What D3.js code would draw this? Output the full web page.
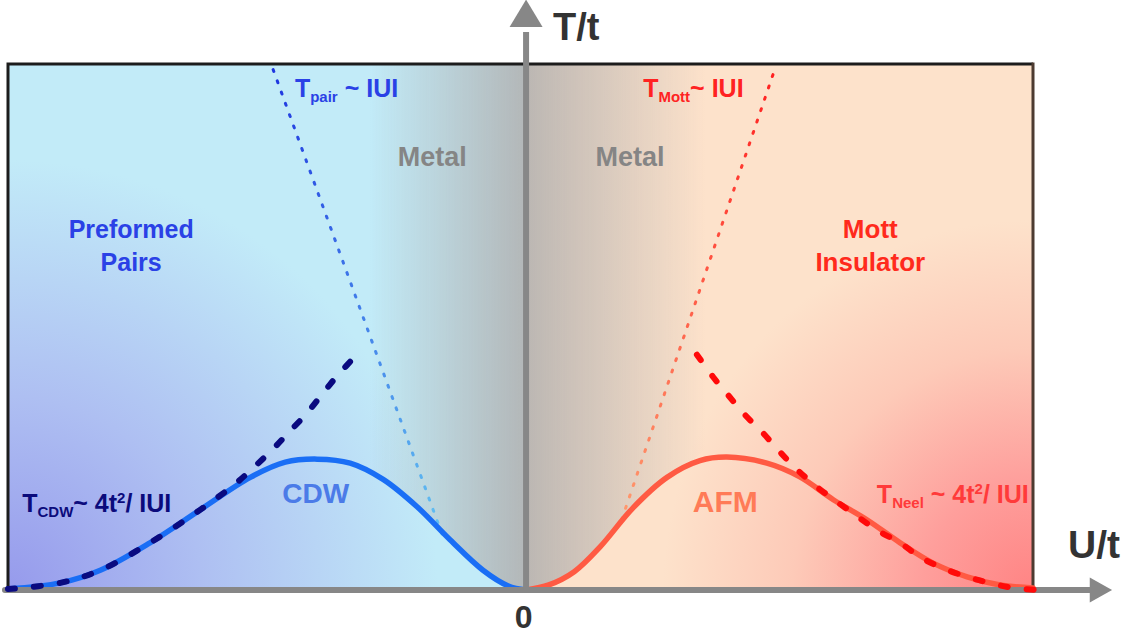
<!DOCTYPE html>
<html>
<head>
<meta charset="UTF-8">
<title>Hubbard phase diagram</title>
<script src="https://cdn.jsdelivr.net/npm/d3@7"></script>
<style>
  body { margin: 0; background: #fff; }
  text { font-family: "Liberation Sans", Arial, Helvetica, sans-serif; font-weight: bold; white-space: pre; }
</style>
</head>
<body>
<svg width="1141" height="639"></svg>
<script>
var width = 1141, height = 639;

// transition curves, [U/t, T/t]
var cdwCurve = [[-10.22,0.02],[-9.19,0.14],[-8.40,0.39],[-7.42,0.93],[-6.43,1.58],[-5.44,2.22],
                [-4.75,2.52],[-4.12,2.58],[-3.47,2.50],[-2.82,2.18],[-2.15,1.64],[-1.50,0.99],
                [-0.85,0.39],[-0.35,0.08],[0,0]];
var afmCurve = [[0,0],[0.45,0.10],[0.95,0.36],[1.46,0.85],[2.11,1.62],[2.78,2.22],[3.43,2.55],
                [3.96,2.62],[4.75,2.50],[5.40,2.23],[6.06,1.78],[6.73,1.38],[7.38,0.93],
                [8.03,0.53],[8.70,0.26],[9.35,0.10],[10.0,0.04]];
// 4t^2/|U| strong coupling branches
var cdwStrong = [[-10.22,0.02],[-9.19,0.14],[-8.40,0.39],[-7.42,0.93],[-6.43,1.58],[-5.74,2.09],
                 [-5.38,2.41],[-5.01,2.76],[-4.67,3.12],[-4.32,3.49],[-4.00,3.89],[-3.71,4.24],[-3.33,4.65]];
var neelStrong = [[3.37,4.64],[3.69,4.20],[3.98,3.85],[4.32,3.45],[4.67,3.10],[5.01,2.72],[5.35,2.37],
                  [5.74,2.03],[6.13,1.74],[6.55,1.44],[6.92,1.18],[7.38,0.93],[7.77,0.65],[8.22,0.43],
                  [8.70,0.26],[9.15,0.14],[9.61,0.04],[10.14,0.0]];
// T ~ |U| crossover lines
var pairLine = [[-4.99,10.26],[-1.64,1.05]];
var mottLine = [[4.87,10.16],[1.85,1.28]];
// grey "metal" wedge
var metalWedge = [[-10.22,10.37],[10,10.37],[10,8.93],[3.17,2.44],[3.17,0],[-3.06,0],[-3.06,2.31],[-10.22,10.40]];

var uDomain = [-10.22, 10], tDomain = [0, 10.37];
var uAxis = [-10.28, 11.56], tAxis = 11.64;

var regionLabels = [
  {text: "Preformed", u: -7.79, t: 6.94, color: "#2a41e6", size: 25},
  {text: "Pairs",     u: -7.79, t: 6.29, color: "#2a41e6", size: 25},
  {text: "Mott",      u: 6.79,  t: 6.94, color: "#ff2a1c", size: 26},
  {text: "Insulator", u: 6.79,  t: 6.29, color: "#ff2a1c", size: 26},
  {text: "Metal",     u: -1.85, t: 8.36, color: "#858585", size: 27},
  {text: "Metal",     u: 2.05,  t: 8.36, color: "#858585", size: 27},
  {text: "CDW",       u: -4.15, t: 1.72, color: "#4b7be8", size: 28},
  {text: "AFM",       u: 3.93,  t: 1.54, color: "#ff7b57", size: 30}
];
var formulaLabels = [
  {sub: "pair", rest: " ~ IUI", u: -4.56, t: 9.72, color: "#2a41e6"},
  {sub: "Mott", rest: "~ IUI",  u: 2.31,  t: 9.72, color: "#ff2222"},
  {sub: "CDW",  rest: "~ 4t", sup: "2", tail: "/ IUI", u: -9.94, t: 1.54, color: "#0b0b7c"},
  {sub: "Neel", rest: " ~ 4t", sup: "2", tail: "/ IUI", u: 6.92, t: 1.72, color: "#ff3a3a"}
];

var x = d3.scaleLinear().domain(uDomain).range([8, 1033]);
var y = d3.scaleLinear().domain(tDomain).range([590, 64]);

var svg = d3.select("svg");
var defs = svg.append("defs");

function radial(id, cx, cy, r, stops) {
  var g = defs.append("radialGradient").attr("id", id).attr("gradientUnits", "userSpaceOnUse")
    .attr("cx", cx).attr("cy", cy).attr("r", r);
  stops.forEach(function(s) { g.append("stop").attr("offset", s[0]).attr("stop-color", s[1]); });
}
radial("leftBg", x(uDomain[0]), y(0), 430, [[0, "#969aec"], [0.45, "#aebff2"], [1, "#c2ebf8"]]);
radial("rightBg", x(uDomain[1]), y(0), 370, [[0, "#ff8484"], [0.3, "#fe9f9c"], [0.65, "#fdcab8"], [1, "#fde2cb"]]);

var metalGrad = defs.append("linearGradient").attr("id", "metalGrad").attr("gradientUnits", "userSpaceOnUse")
  .attr("x1", x(uDomain[0])).attr("x2", x(uDomain[1])).attr("y1", 0).attr("y2", 0);
var span = x(uDomain[1]) - x(uDomain[0]);
[[370, "#b3b7b8", 0], [x(0) - 2, "#b3b7b8", 1], [x(0) + 2, "#bcb7b3", 1], [705, "#bcb7b3", 0]].forEach(function(s) {
  metalGrad.append("stop").attr("offset", (s[0] - x(uDomain[0])) / span)
    .attr("stop-color", s[1]).attr("stop-opacity", s[2]);
});

function vGrad(id, line, c0, c1) {
  var g = defs.append("linearGradient").attr("id", id).attr("gradientUnits", "userSpaceOnUse")
    .attr("x1", 0).attr("x2", 0).attr("y1", y(line[0][1])).attr("y2", y(line[1][1]));
  g.append("stop").attr("offset", 0).attr("stop-color", c0);
  g.append("stop").attr("offset", 1).attr("stop-color", c1);
}
vGrad("pairGrad", pairLine, "#1e35e0", "#63c3f2");
vGrad("mottGrad", mottLine, "#ff2020", "#ff9c70");

var straight = d3.line().x(function(d) { return x(d[0]); }).y(function(d) { return y(d[1]); });
var line = d3.line().x(function(d) { return x(d[0]); }).y(function(d) { return y(d[1]); }).curve(d3.curveCatmullRom.alpha(0.5));
var area = d3.area().x(function(d) { return x(d[0]); }).y0(y(0) + 3).y1(function(d) { return y(d[1]); }).curve(d3.curveCatmullRom.alpha(0.5));

var mask = defs.append("mask").attr("id", "metalMask").attr("maskUnits", "userSpaceOnUse")
  .attr("x", 0).attr("y", 0).attr("width", width).attr("height", height);
mask.append("path").attr("fill", "#fff").attr("d", straight(metalWedge) + "Z");
mask.append("path").attr("fill", "#000").attr("d", area(cdwCurve));
mask.append("path").attr("fill", "#000").attr("d", area(afmCurve));

// backgrounds
svg.append("rect").attr("x", x(uDomain[0])).attr("y", y(tDomain[1]))
  .attr("width", x(0) - x(uDomain[0])).attr("height", y(0) - y(tDomain[1])).attr("fill", "url(#leftBg)");
svg.append("rect").attr("x", x(0)).attr("y", y(tDomain[1]))
  .attr("width", x(uDomain[1]) - x(0)).attr("height", y(0) - y(tDomain[1])).attr("fill", "url(#rightBg)");
svg.append("rect").attr("x", x(uDomain[0])).attr("y", y(tDomain[1]))
  .attr("width", span).attr("height", y(0) - y(tDomain[1]))
  .attr("fill", "url(#metalGrad)").attr("mask", "url(#metalMask)");

// frame
svg.append("path").attr("fill", "none").attr("stroke", "#1c1c1c").attr("stroke-width", 3)
  .attr("d", "M" + x(uDomain[0]) + "," + y(0) + "V" + y(tDomain[1]) + "H" + x(uDomain[1]));
svg.append("path").attr("fill", "none").attr("stroke", "#4d3b31").attr("stroke-width", 3)
  .attr("d", "M" + x(uDomain[1]) + "," + (y(tDomain[1]) - 1.5) + "V" + y(0));

// dotted T ~ |U| lines
svg.append("path").attr("d", straight(pairLine))
  .attr("stroke", "url(#pairGrad)").attr("stroke-width", 3).attr("stroke-dasharray", "2 10")
  .attr("stroke-linecap", "round").attr("fill", "none");
svg.append("path").attr("d", straight(mottLine))
  .attr("stroke", "url(#mottGrad)").attr("stroke-width", 3).attr("stroke-dasharray", "2 10")
  .attr("stroke-linecap", "round").attr("fill", "none");

// solid transition curves
svg.append("path").attr("d", line(cdwCurve)).attr("fill", "none")
  .attr("stroke", "#1a6ef5").attr("stroke-width", 5.5).attr("stroke-linecap", "round");
svg.append("path").attr("d", line(afmCurve)).attr("fill", "none")
  .attr("stroke", "#ff5a43").attr("stroke-width", 5.5).attr("stroke-linecap", "round");

// axes with arrows
svg.append("line").attr("x1", x(uAxis[0])).attr("x2", x(11.2)).attr("y1", y(0)).attr("y2", y(0))
  .attr("stroke", "#878787").attr("stroke-width", 6).attr("stroke-linecap", "round");
svg.append("path").attr("fill", "#878787")
  .attr("d", "M" + x(uAxis[1]) + "," + y(0) + "L" + x(11.12) + "," + (y(0) - 12.5) + "L" + x(11.12) + "," + (y(0) + 12.5) + "Z");
svg.append("line").attr("x1", x(0)).attr("x2", x(0)).attr("y1", y(0)).attr("y2", y(11.0))
  .attr("stroke", "#878787").attr("stroke-width", 6);
svg.append("path").attr("fill", "#878787")
  .attr("d", "M" + x(0) + "," + y(tAxis) + "L" + (x(0) - 16.5) + "," + y(11.1) + "L" + (x(0) + 16.5) + "," + y(11.1) + "Z");

var xAxis = svg.append("g").attr("transform", "translate(0," + y(0) + ")")
  .call(d3.axisBottom(x).tickValues([0]).tickSize(0).tickPadding(15).tickFormat(d3.format("d")));
xAxis.select(".domain").remove();
xAxis.attr("color", "#333");
xAxis.selectAll("text").style("font-size", "32px").attr("dx", -3);

svg.append("text").attr("x", x(0) + 27).attr("y", 40).attr("fill", "#333").style("font-size", "38px").text("T/t");
svg.append("text").attr("x", 1068).attr("y", y(0) - 32).attr("fill", "#333").style("font-size", "39px").text("U/t");

// dashed 4t^2/|U| branches
svg.append("path").attr("d", line(cdwStrong)).attr("fill", "none")
  .attr("stroke", "#0a0a80").attr("stroke-width", 6).attr("stroke-linecap", "round").attr("stroke-dasharray", "7 19");
svg.append("path").attr("d", line(neelStrong)).attr("fill", "none")
  .attr("stroke", "#ff0a0a").attr("stroke-width", 6).attr("stroke-linecap", "round").attr("stroke-dasharray", "7 19");

// labels
svg.selectAll("text.region").data(regionLabels).enter().append("text")
  .attr("class", "region")
  .attr("x", function(d) { return x(d.u); })
  .attr("y", function(d) { return y(d.t); })
  .attr("text-anchor", "middle")
  .attr("fill", function(d) { return d.color; })
  .style("font-size", function(d) { return d.size + "px"; })
  .text(function(d) { return d.text; });

formulaLabels.forEach(function(d) {
  var t = svg.append("text").attr("x", x(d.u)).attr("y", y(d.t)).attr("fill", d.color).style("font-size", "25px");
  t.append("tspan").text("T");
  t.append("tspan").attr("dy", 5).style("font-size", "15px").text(d.sub);
  t.append("tspan").attr("dy", -5).text(d.rest);
  if (d.sup) {
    t.append("tspan").attr("dy", -9).style("font-size", "15px").text(d.sup);
    t.append("tspan").attr("dy", 9).text(d.tail);
  }
});
</script>
</body>
</html>
